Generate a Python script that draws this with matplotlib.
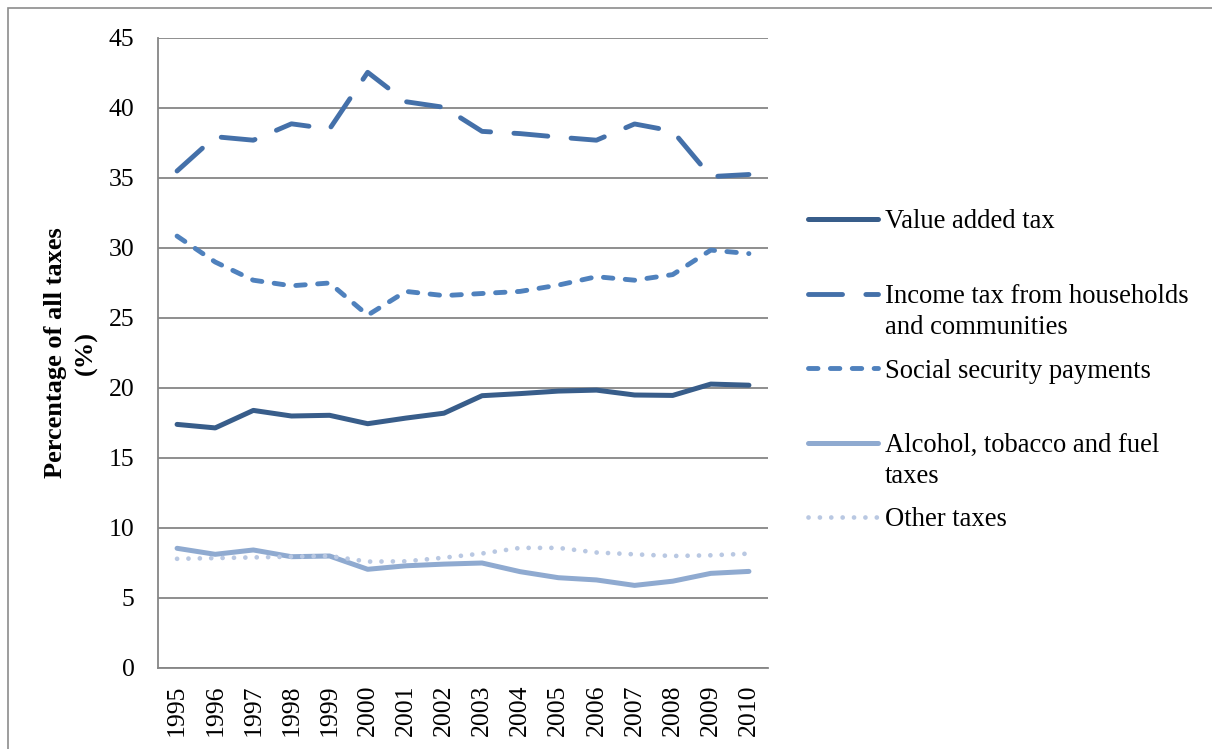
import matplotlib.pyplot as plt
from matplotlib.lines import Line2D
from matplotlib.patches import Rectangle

plt.rcParams['font.family'] = ['Liberation Serif', 'DejaVu Serif']

years = [str(y) for y in range(1995, 2011)]

vat = [17.4, 17.15, 18.4, 18.0, 18.05, 17.45, 17.85, 18.2,
       19.45, 19.6, 19.78, 19.85, 19.5, 19.47, 20.28, 20.2]
income_tax = [35.5, 37.95, 37.7, 38.87, 38.5, 42.55, 40.45, 40.05,
              38.33, 38.17, 37.92, 37.7, 38.86, 38.35, 35.1, 35.25]
social_security = [30.85, 29.0, 27.7, 27.3, 27.5, 25.2, 26.9, 26.6,
                   26.75, 26.9, 27.35, 27.95, 27.7, 28.1, 29.85, 29.6]
alcohol_tobacco_fuel = [8.55, 8.12, 8.43, 7.95, 8.0, 7.05, 7.3, 7.42,
                        7.5, 6.88, 6.45, 6.29, 5.9, 6.2, 6.76, 6.9]
other_taxes = [7.8, 7.85, 7.9, 7.95, 8.0, 7.6, 7.62, 7.88,
               8.18, 8.58, 8.58, 8.25, 8.12, 8.0, 8.05, 8.17]

labels = ['Value added tax',
          'Income tax from households\nand communities',
          'Social security payments',
          'Alcohol, tobacco and fuel\ntaxes',
          'Other taxes']

W, H = 1212, 749
fig = plt.figure(figsize=(W / 100, H / 100), dpi=100)
ax = fig.add_axes([158 / W, 1 - 668 / H, (768 - 158) / W, (668 - 38) / H])

styles = [
    dict(color='#385D8A', lw=3.6, ls='-'),
    dict(color='#4470A9', lw=3.5, dashes=(7.0, 4.8), dash_capstyle='round'),
    dict(color='#4F81BD', lw=3.5, dashes=(1.95, 2.55), dash_capstyle='round'),
    dict(color='#8FAAD0', lw=3.6, ls='-'),
    dict(color='#B9C8E2', lw=3.4, dashes=(0.01, 2.4), dash_capstyle='round'),
]
series = [vat, income_tax, social_security, alcohol_tobacco_fuel, other_taxes]

x = range(len(years))
for vals, st in zip(series, styles):
    ax.plot(x, vals, solid_capstyle='round', solid_joinstyle='round', **st)

ax.set_xlim(-0.5, len(years) - 0.5)
ax.set_ylim(0, 45)
ax.set_yticks(range(0, 46, 5))
ax.set_xticks(list(x))
ax.set_xticklabels(years, rotation=90)
ax.tick_params(axis='both', length=0, labelsize=18.5)
ax.tick_params(axis='y', pad=17)
ax.tick_params(axis='x', pad=12)
ax.grid(axis='y', color='#868686', lw=1.3)
ax.set_axisbelow(True)
for s in ['top', 'right']:
    ax.spines[s].set_visible(False)
for s in ['left', 'bottom']:
    ax.spines[s].set_color('#868686')
    ax.spines[s].set_linewidth(1.3)

fig.text(71 / W, 1 - 353 / H, 'Percentage of all taxes\n(%)', rotation=90,
         ha='center', va='center', fontsize=19, fontweight='bold',
         linespacing=1.45)

# legend laid out by hand: first lines evenly spaced, key on the first line
for i, (lab, st) in enumerate(zip(labels, styles)):
    y = 219 + i * 74.5
    fig.add_artist(Line2D([808 / W, 878 / W], [1 - y / H, 1 - y / H],
                          transform=fig.transFigure,
                          solid_capstyle='round', **st))
    fig.text(885 / W, 1 - (y - 9.5) / H, lab, ha='left', va='top',
             fontsize=19.2, linespacing=1.3)

fig.add_artist(Rectangle((7.5 / W, -0.1), 1.2, 1.1 - 8.5 / H,
                         transform=fig.transFigure, fill=False,
                         edgecolor='#8C8C8C', lw=1.2))

fig.savefig('out.png', dpi=100)
